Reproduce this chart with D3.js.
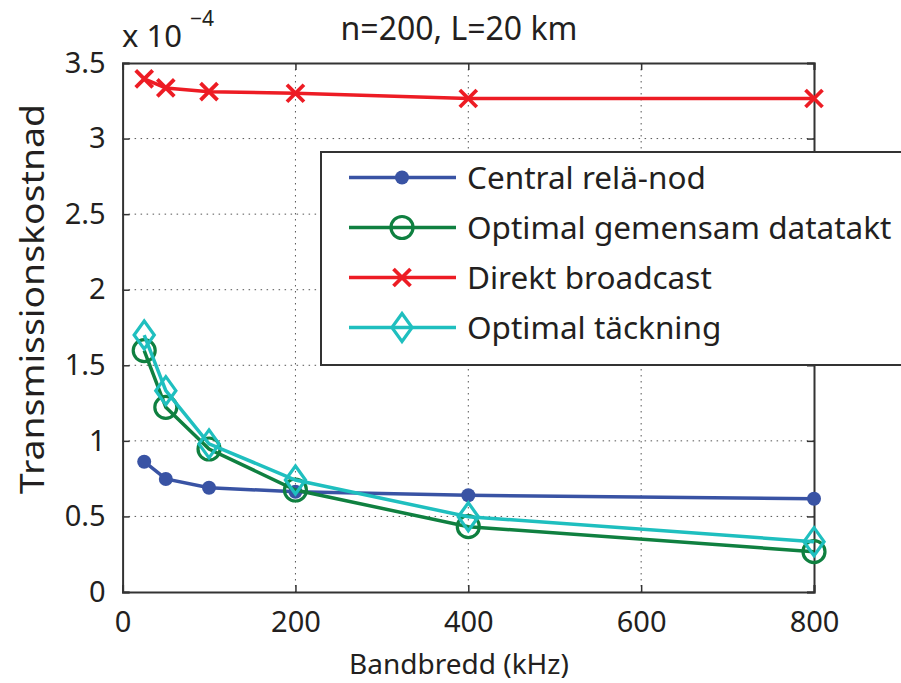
<!DOCTYPE html>
<html>
<head>
<meta charset="utf-8">
<script src="https://cdn.jsdelivr.net/npm/d3@7"></script>
<style>
  body { margin: 0; background: #fff; }
  text { font-family: "Noto Sans", "Open Sans", sans-serif; fill: #231f20; }
</style>
</head>
<body>
<div id="chart"></div>
<script>
// bandbredd i kHz
let bandwidth = [25, 50, 100, 200, 400, 800];

// transmissionskostnad (x 1e-4)
let centralRelay = [0.862, 0.748, 0.690, 0.663, 0.640, 0.617];
let optimalRate = [1.597, 1.222, 0.946, 0.675, 0.432, 0.267];
let directBroadcast = [3.395, 3.335, 3.31, 3.30, 3.265, 3.265];
let optimalCover = [1.70, 1.332, 0.98, 0.741, 0.498, 0.333];

let xTicks = [0, 200, 400, 600, 800];
let yTicks = [0, 0.5, 1, 1.5, 2, 2.5, 3, 3.5];

let seriesNames = ["Central relä-nod", "Optimal gemensam datatakt", "Direkt broadcast", "Optimal täckning"];
let seriesColors = ["#3953a4", "#0f8040", "#ed1c24", "#1fbfbf"];
let seriesMarkers = ["dot", "circle", "cross", "diamond"];
let seriesValues = [centralRelay, optimalRate, directBroadcast, optimalCover];

let W = 901, H = 683;
let pLeft = 122.6, pRight = 814, pTop = 63, pBottom = 592;

let svg = d3.select("#chart").append("svg").attr("width", W).attr("height", H);

let x = d3.scaleLinear().domain([0, 800]).range([pLeft, pRight]);
let y = d3.scaleLinear().domain([0, 3.5]).range([pBottom, pTop]);

// grid (prickad)
let grid = svg.append("g").attr("stroke", "#555").attr("stroke-width", 1).attr("stroke-dasharray", "1.5,4.5");
xTicks.slice(1, -1).forEach(t => {
    grid.append("line").attr("x1", x(t)).attr("x2", x(t)).attr("y1", pTop).attr("y2", pBottom);
});
yTicks.slice(1, -1).forEach(t => {
    grid.append("line").attr("x1", pLeft).attr("x2", pRight).attr("y1", y(t)).attr("y2", y(t));
});

// axlar
let xAxis = svg.append("g").attr("transform", `translate(0,${pBottom})`)
    .call(d3.axisBottom(x).tickValues(xTicks).tickSize(-7).tickPadding(19).tickFormat(d3.format("d")));
let yAxis = svg.append("g").attr("transform", `translate(${pLeft},0)`)
    .call(d3.axisLeft(y).tickValues(yTicks).tickSize(-7).tickPadding(17).tickFormat(d => d));
let xTop = svg.append("g").attr("transform", `translate(0,${pTop})`)
    .call(d3.axisTop(x).tickValues(xTicks).tickSize(-7).tickFormat(""));
let yRight = svg.append("g").attr("transform", `translate(${pRight},0)`)
    .call(d3.axisRight(y).tickValues(yTicks).tickSize(-7).tickFormat(""));

[xAxis, yAxis, xTop, yRight].forEach(a => {
    a.select(".domain").attr("stroke", "#333").attr("stroke-width", 2);
    a.selectAll(".tick line").attr("stroke", "#333").attr("stroke-width", 1.5);
    a.selectAll(".tick text").style("font-size", "29px").attr("fill", "#231f20")
        .style("font-family", '"Noto Sans", sans-serif');
});

// linjer och markörer
let line = d3.line().x((d, i) => x(bandwidth[i])).y(d => y(d));

let drawMarker = (g, type, cx, cy, color) => {
    if (type === "dot") {
        g.append("circle").attr("cx", cx).attr("cy", cy).attr("r", 7).attr("fill", color);
    } else if (type === "circle") {
        g.append("circle").attr("cx", cx).attr("cy", cy).attr("r", 11)
            .attr("fill", "none").attr("stroke", color).attr("stroke-width", 3.2);
    } else if (type === "cross") {
        let s = 8.5;
        g.append("path").attr("d", `M${cx - s},${cy - s}L${cx + s},${cy + s}M${cx - s},${cy + s}L${cx + s},${cy - s}`)
            .attr("stroke", color).attr("stroke-width", 3.8).attr("fill", "none");
    } else if (type === "diamond") {
        let s = 14;
        g.append("path").attr("d", `M${cx},${cy - s}L${cx + s * 0.72},${cy}L${cx},${cy + s}L${cx - s * 0.72},${cy}Z`)
            .attr("stroke", color).attr("stroke-width", 3.2).attr("fill", "none");
    }
};

seriesValues.forEach((vals, k) => {
    let g = svg.append("g");
    g.append("path").datum(vals).attr("d", line)
        .attr("fill", "none").attr("stroke", seriesColors[k]).attr("stroke-width", 3.5);
    vals.forEach((v, i) => drawMarker(g, seriesMarkers[k], x(bandwidth[i]), y(v), seriesColors[k]));
});

// legend
let lg = svg.append("g");
lg.append("rect").attr("x", 321).attr("y", 152).attr("width", 600).attr("height", 213)
    .attr("fill", "#fff").attr("stroke", "#333").attr("stroke-width", 2);
seriesNames.forEach((name, k) => {
    let ly = 177.5 + k * 50;
    lg.append("line").attr("x1", 349).attr("x2", 456).attr("y1", ly).attr("y2", ly)
        .attr("stroke", seriesColors[k]).attr("stroke-width", 3.5);
    drawMarker(lg, seriesMarkers[k], 402, ly, seriesColors[k]);
    lg.append("text").attr("x", 467).attr("y", ly + 11).text(name).style("font-size", "31.5px");
});

// titlar
svg.append("text").attr("x", 459).attr("y", 40).attr("text-anchor", "middle")
    .style("font-size", "32px").text("n=200, L=20 km");
svg.append("text").attr("x", 122).attr("y", 47).style("font-size", "31px").text("x 10");
svg.append("text").attr("x", 190).attr("y", 26).style("font-size", "21px").text("\u22124");
svg.append("text").attr("x", 459).attr("y", 674).attr("text-anchor", "middle")
    .style("font-size", "28px").text("Bandbredd (kHz)");
svg.append("text").attr("transform", "translate(44,299) rotate(-90)").attr("text-anchor", "middle")
    .attr("textLength", 390).attr("lengthAdjust", "spacingAndGlyphs")
    .style("font-size", "33px").text("Transmissionskostnad");
</script>
</body>
</html>
